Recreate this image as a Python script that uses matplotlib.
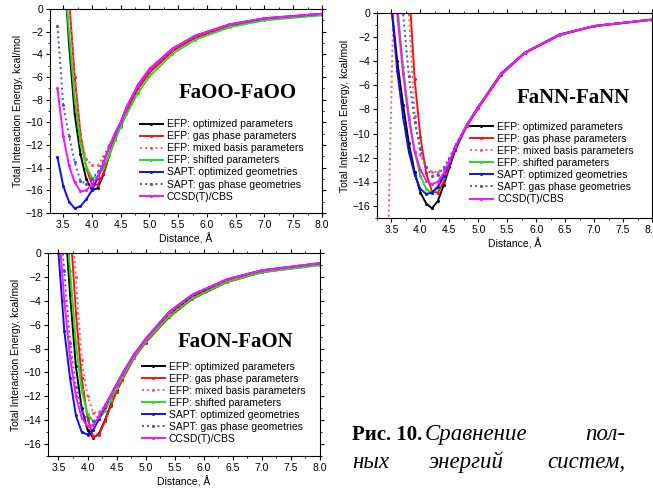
import numpy as np
import matplotlib
matplotlib.use("Agg")
import matplotlib.pyplot as plt
from matplotlib.ticker import MultipleLocator

plt.rcParams['font.family'] = ['Liberation Sans', 'DejaVu Sans']

labels = ["EFP: optimized parameters", "EFP: gas phase parameters",
          "EFP: mixed basis parameters", "EFP: shifted parameters",
          "SAPT: optimized geometries", "SAPT: gas phase geometries",
          "CCSD(T)/CBS"]
colors = ["#000000", "#ff1010", "#ff5a5a", "#22dd22", "#1010ee", "#4a4aff", "#ff10ff"]
styles = ["-", "-", ":", "-", "-", ":", "-"]

dist = [3.4, 3.5, 3.6, 3.7, 3.8, 3.9, 4.0, 4.1, 4.2, 4.3, 4.4, 4.5, 4.6,
        4.8, 5.0, 5.4, 5.8, 6.4, 7.0, 8.0]

# FaOO-FaOO
oo_efp_opt = [20, 5, -3.0, -9.3, -12.8, -15.0, -16.0, -15.8, -14.6, -12.9, -11.4, -10.2, -9.0, -7.0, -5.6, -3.7, -2.5, -1.45, -0.88, -0.48]
oo_efp_gas = [25, 9, 1.0, -6.0, -11.0, -14.0, -15.5, -15.5, -14.5, -12.9, -11.4, -10.2, -9.0, -7.0, -5.6, -3.7, -2.5, -1.45, -0.88, -0.48]
oo_efp_mix = [25, 9, 1.0, -6.5, -11.2, -13.2, -13.8, -13.8, -13.0, -12.0, -11.0, -10.0, -8.8, -6.8, -5.4, -3.6, -2.4, -1.4, -0.85, -0.45]
oo_efp_shift = [20, 4, -2.0, -8.0, -11.8, -13.9, -14.9, -14.8, -14.0, -12.9, -11.6, -10.4, -9.3, -7.4, -5.95, -3.95, -2.7, -1.6, -1.0, -0.55]
oo_sapt_opt = [-13.1, -15.6, -17.0, -17.6, -17.4, -16.8, -16.0, -14.9, -13.6, -12.2, -11.0, -10.0, -8.7, -6.7, -5.3, -3.5, -2.35, -1.35, -0.82, -0.42]
oo_sapt_gas = [-1.5, -8.5, -11.2, -13.5, -15.2, -15.4, -15.0, -14.4, -13.4, -12.1, -11.0, -10.0, -8.7, -6.7, -5.3, -3.5, -2.35, -1.35, -0.82, -0.42]
oo_ccsd = [-7.0, -11.2, -13.8, -15.3, -16.1, -16.0, -15.5, -14.8, -13.6, -12.2, -11.0, -10.0, -8.7, -6.7, -5.3, -3.5, -2.35, -1.35, -0.82, -0.42]

# FaNN-FaNN
nn_efp_opt = [15, 0.5, -4.0, -7.6, -10.8, -13.2, -14.9, -15.8, -16.2, -15.6, -14.3, -12.8, -11.4, -9.3, -7.8, -5.0, -3.3, -1.8, -1.08, -0.55]
nn_efp_gas = [40, 25, 12, 6, 2.5, -5.5, -10.3, -13.3, -14.8, -14.9, -14.0, -12.6, -11.3, -9.4, -7.9, -5.1, -3.35, -1.85, -1.1, -0.57]
nn_mix_dist = [3.4, 3.6, 3.7, 3.8, 3.9, 4.0, 4.1, 4.2, 4.3, 4.4, 4.5, 4.6, 4.8, 5.0, 5.4, 5.8, 6.4, 7.0, 8.0]
nn_efp_mix = [-28, 15, 5, 0.0, -8.5, -11.8, -12.8, -13.2, -13.2, -12.8, -12.0, -11.0, -9.3, -7.8, -5.0, -3.3, -1.8, -1.08, -0.55]
nn_efp_shift = [25, 8, 0.8, -4.5, -8.5, -11.5, -13.5, -14.6, -14.9, -14.5, -13.6, -12.4, -11.2, -9.3, -7.8, -5.0, -3.3, -1.8, -1.08, -0.55]
nn_sapt_opt = [14, 0.5, -4.8, -8.6, -11.5, -13.4, -14.6, -15.0, -14.9, -14.4, -13.5, -12.4, -11.2, -9.3, -7.8, -5.0, -3.3, -1.8, -1.08, -0.55]
nn_sapt_gas = [30, 14, 5.0, 0.0, -5.2, -9.0, -11.3, -12.8, -13.5, -13.4, -12.9, -12.1, -11.0, -9.3, -7.8, -5.0, -3.3, -1.8, -1.08, -0.55]
nn_ccsd = [25, 8, 0.0, -5.0, -8.8, -11.5, -13.0, -13.9, -14.2, -14.0, -13.3, -12.3, -11.1, -9.3, -7.8, -5.0, -3.3, -1.8, -1.08, -0.55]

# FaON-FaON
on_efp_opt = [15, 9, 3.5, -3.5, -9.5, -13.0, -14.8, -15.5, -15.1, -14.0, -12.7, -11.5, -10.5, -8.7, -7.4, -5.2, -3.7, -2.35, -1.55, -0.95]
on_efp_gas = [25, 15, 8, 2.5, -5.0, -10.5, -13.8, -15.4, -15.2, -14.1, -12.8, -11.6, -10.6, -8.8, -7.5, -5.4, -3.85, -2.45, -1.62, -1.0]
on_efp_mix = [28, 18, 10, 4.5, -2.0, -9.0, -12.0, -13.4, -13.3, -12.8, -12.1, -11.1, -10.2, -8.6, -7.3, -5.1, -3.6, -2.3, -1.5, -0.9]
on_efp_shift = [18, 11, 5.0, -1.5, -7.5, -11.5, -13.5, -14.1, -13.9, -13.2, -12.3, -11.3, -10.4, -8.7, -7.4, -5.3, -3.8, -2.4, -1.6, -1.0]
on_sapt_opt = [8, 0.0, -6.5, -10.5, -13.6, -15.0, -15.2, -14.8, -13.9, -12.9, -11.9, -11.0, -10.1, -8.5, -7.2, -4.95, -3.5, -2.2, -1.45, -0.85]
on_sapt_gas = [12, 4.5, -1.5, -7.5, -11.2, -13.2, -14.0, -14.1, -13.6, -12.7, -11.9, -11.0, -10.1, -8.5, -7.2, -4.95, -3.5, -2.2, -1.45, -0.85]
on_ccsd = [10, 2.5, -4.0, -8.8, -12.0, -13.8, -14.5, -14.4, -13.7, -12.8, -11.9, -11.0, -10.1, -8.5, -7.2, -4.95, -3.5, -2.2, -1.45, -0.85]


def draw_panel(ax, series, name, xlim, ylim, name_xy, leg_xy):
    for (xs, ys), lab, c, ls in zip(series, labels, colors, styles):
        ax.plot(xs, ys, ls, color=c, lw=1.4, marker='o', ms=1.2, label=lab)
    ax.set_xlim(*xlim)
    ax.set_ylim(*ylim)
    ax.xaxis.set_major_locator(MultipleLocator(0.5))
    ax.xaxis.set_minor_locator(MultipleLocator(0.25))
    ax.yaxis.set_major_locator(MultipleLocator(2))
    ax.yaxis.set_minor_locator(MultipleLocator(1))
    ax.xaxis.set_major_formatter(plt.FormatStrFormatter('%.1f'))
    ax.tick_params(which='both', top=True, right=True, labelsize=7.5, pad=2)
    ax.tick_params(which='major', length=3)
    ax.tick_params(which='minor', length=1.5)
    for s in ax.spines.values():
        s.set_linewidth(0.8)
    ax.set_xlabel("Distance, Å", fontsize=7.5, labelpad=2)
    ax.set_ylabel("Total Interaction Energy, kcal/mol", fontsize=7.5, labelpad=2)
    ax.text(name_xy[0], name_xy[1], name, transform=ax.transAxes, ha='center', va='center',
            fontsize=15, fontweight='bold', family='Liberation Serif')
    ax.legend(loc='upper left', bbox_to_anchor=leg_xy, frameon=False, fontsize=7.5,
              handlelength=2.2, handletextpad=0.4, labelspacing=0.2, borderpad=0, borderaxespad=0)


fig = plt.figure(figsize=(6.53, 4.88), dpi=100)
W, H = 653, 488


def add_ax(l, t, r, b):
    return fig.add_axes([l / W, 1 - b / H, (r - l) / W, (b - t) / H])


ax1 = add_ax(50, 9, 322, 213)
draw_panel(ax1, [(dist, oo_efp_opt), (dist, oo_efp_gas), (dist, oo_efp_mix), (dist, oo_efp_shift),
                 (dist, oo_sapt_opt), (dist, oo_sapt_gas), (dist, oo_ccsd)],
           "FaOO-FaOO", (3.27, 8.0), (-18, 0), (0.69, 0.59), (0.33, 0.46))

ax2 = add_ax(377, 13, 652, 218)
draw_panel(ax2, [(dist, nn_efp_opt), (dist, nn_efp_gas), (nn_mix_dist, nn_efp_mix), (dist, nn_efp_shift),
                 (dist, nn_sapt_opt), (dist, nn_sapt_gas), (dist, nn_ccsd)],
           "FaNN-FaNN", (3.25, 8.0), (-17, 0), (0.715, 0.585), (0.338, 0.47))

ax3 = add_ax(48, 253, 320, 456)
draw_panel(ax3, [(dist, on_efp_opt), (dist, on_efp_gas), (dist, on_efp_mix), (dist, on_efp_shift),
                 (dist, on_sapt_opt), (dist, on_sapt_gas), (dist, on_ccsd)],
           "FaON-FaON", (3.32, 8.0), (-17, 0), (0.69, 0.56), (0.345, 0.465))

# caption
fig.text(352 / W, 1 - 440 / H, "Рис. 10.", fontsize=15, family='Liberation Serif',
         fontweight='bold', ha='left', va='baseline')
fig.text(425 / W, 1 - 440 / H, "Сравнение", fontsize=16.5, family='Liberation Serif',
         style='italic', ha='left', va='baseline')
fig.text(625 / W, 1 - 440 / H, "пол-", fontsize=16.5, family='Liberation Serif',
         style='italic', ha='right', va='baseline')
fig.text(352 / W, 1 - 468 / H, "ных", fontsize=16.5, family='Liberation Serif',
         style='italic', ha='left', va='baseline')
fig.text(466 / W, 1 - 468 / H, "энергий", fontsize=16.5, family='Liberation Serif',
         style='italic', ha='center', va='baseline')
fig.text(625 / W, 1 - 468 / H, "систем,", fontsize=16.5, family='Liberation Serif',
         style='italic', ha='right', va='baseline')

fig.savefig("out.png", dpi=100)
